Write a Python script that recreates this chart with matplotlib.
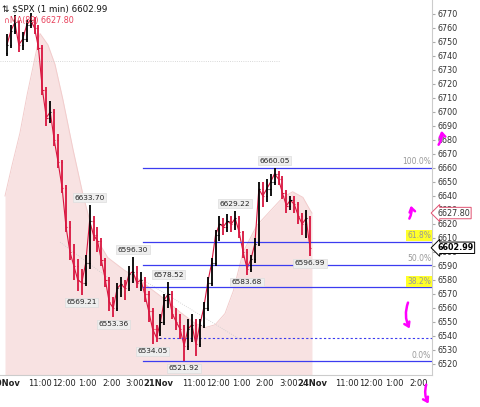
import numpy as np
import matplotlib.pyplot as plt

# 10-minute bars, Nov 20 and Nov 21
closes = [6748, 6758, 6764, 6748, 6752, 6762, 6766, 6760, 6746, 6716, 6696, 6700, 6680,
          6664, 6646, 6618, 6600, 6590, 6580, 6578, 6592, 6622, 6612, 6608, 6594, 6580,
          6564, 6560, 6574, 6577, 6574, 6584, 6586, 6578, 6580, 6570, 6558, 6545, 6538.76,
          6550, 6566, 6570, 6556, 6550, 6545, 6533, 6545, 6548, 6534, 6548, 6560, 6578,
          6592, 6612, 6620, 6618, 6622, 6620, 6624, 6614, 6600, 6588, 6595, 6606, 6645,
          6640, 6645, 6650, 6656, 6652, 6642, 6633, 6637, 6634, 6626, 6620, 6624, 6602.99]
highs = [6756, 6762, 6769, 6765, 6757, 6766, 6771, 6768, 6762, 6748, 6718, 6708, 6702,
         6684, 6666, 6648, 6622, 6606, 6595, 6588, 6598, 6633.70, 6626, 6618, 6610, 6596,
         6582, 6568, 6578, 6582, 6580, 6590, 6596.30, 6590, 6586, 6582, 6572, 6560, 6548,
         6556, 6570, 6578.52, 6572, 6560, 6556, 6548, 6552, 6556, 6552, 6552, 6564, 6582,
         6596, 6616, 6626, 6624, 6627, 6626, 6629.22, 6626, 6615, 6602, 6598, 6610, 6650,
         6650, 6652, 6656, 6660.05, 6658, 6654, 6644, 6640, 6640, 6636, 6628, 6630, 6626]
lows = [6740, 6746, 6756, 6743, 6744, 6750, 6760, 6756, 6744, 6712, 6690, 6692, 6676,
        6660, 6642, 6614, 6594, 6580, 6572, 6569.21, 6576, 6588, 6608, 6600, 6590, 6575,
        6558, 6553.36, 6558, 6568, 6566, 6572, 6578, 6574, 6572, 6564, 6550, 6534.05, 6536,
        6540, 6548, 6560, 6552, 6544, 6538, 6521.92, 6530, 6536, 6526, 6532, 6546, 6558,
        6576, 6590, 6608, 6612, 6614, 6614, 6616, 6610, 6596, 6583.68, 6586, 6592, 6604,
        6632, 6636, 6640, 6648, 6648, 6638, 6628, 6630, 6628, 6620, 6612, 6610, 6596.99]
first_open = 6742

# bars whose high / low got a price tag on the chart
high_tags = [21, 32, 41, 58, 68]
low_tags = [19, 27, 37, 45, 61, 77]

# MA(89) read at some minutes (minutes from Nov 20 9:30, sessions back to back)
ma_minutes = [0, 18, 38, 56, 71, 89, 109, 127, 147, 173, 198, 223, 261, 303, 343,
              369, 407, 445, 483, 509, 534, 559, 580, 605, 640, 673, 706, 731, 757, 775, 780]
ma_values = [6640, 6662, 6685, 6712, 6732, 6756, 6748, 6734, 6709, 6673, 6641, 6614, 6596,
             6587, 6580, 6574, 6566, 6557, 6549, 6546, 6548, 6556, 6572, 6600, 6619, 6629,
             6639, 6643, 6639, 6630, 6627.8]

y_ticks = list(range(6520, 6771, 10))
days = ["20Nov", "21Nov", "24Nov"]
hours = ["11:00", "12:00", "1:00", "2:00", "3:00"]
hour_offsets = [90, 150, 210, 270, 330]
day_len = 390

red = "#d8153f"
blue = "#3c3cf0"

closes = np.array(closes)
highs = np.array(highs)
lows = np.array(lows)
opens = np.concatenate([[first_open], closes[:-1]])
t = np.arange(len(closes)) * 10 + 5

fig = plt.figure(figsize=(4.8, 4.07), dpi=100)
ax = fig.add_axes([0, 32 / 407, 432 / 480, 375 / 407])
ax.set_xlim(-12.7, 1085)
ax.set_ylim(6512.1, 6780)

# MA(89) shaded area
ax.fill_between(ma_minutes, ma_values, 6500, color="#f8e2e2", lw=0, zorder=1)
ax.plot(ma_minutes, ma_values, color="#f2cccc", lw=0.7, zorder=1)

# price bars
cols = np.where(closes >= opens, "black", red)
ax.plot(t, closes, color=red, lw=0.8, zorder=2)
ax.vlines(t, lows, highs, colors=cols, lw=1.3, zorder=3)
ax.hlines(closes, t, t + 3, colors=cols, lw=0.8, zorder=3)
ax.hlines(opens, t - 3, t, colors=cols, lw=0.8, zorder=3)

# fib retracement on the Nov 21 swing
hi, lo = highs[39:].max(), lows[39:].min()
fib_start = 351
for lev in [1.0, 0.618, 0.5, 0.382, 0.0]:
    p = lo + (hi - lo) * lev
    ax.plot([fib_start, 1085], [p, p], color=blue, lw=0.9, zorder=2)
    hl = dict(boxstyle="square,pad=0.15", fc="#ffff2a", ec="none") if lev in (0.618, 0.382) else None
    ax.text(1083, p + 1.2, f"{lev * 100:.1f}%", fontsize=5.5, color="#999999",
            ha="right", va="bottom", bbox=hl, zorder=4)
# previous close, dashed
ax.plot([fib_start + 40, 1085], [closes[38], closes[38]], color=blue, lw=0.8,
        ls=(0, (2, 2)), zorder=2)

# faint helper lines
ax.plot([-12.7, 700], [6736.5, 6736.5], color="#cccccc", lw=0.6, ls=":", zorder=1)
ax.plot([345, 600], [6581, 6537], color="#cccccc", lw=0.6, ls=":", zorder=1)
ax.plot([140, 260], [6607, 6582], color="#cccccc", lw=0.6, ls=":", zorder=1)

# price tags on swing highs and lows
tag_box = dict(boxstyle="square,pad=0.2", fc="#eeeeee", ec="#dddddd", lw=0.5)
for i in high_tags:
    ax.text(t[i], highs[i] + 3, f"{highs[i]:.2f}", fontsize=5.3, ha="center", va="bottom",
            color="#222222", bbox=tag_box, zorder=5)
for i in low_tags:
    ax.text(t[i], lows[i] - 3, f"{lows[i]:.2f}", fontsize=5.3, ha="center", va="top",
            color="#222222", bbox=tag_box, zorder=5)

# axes
ax.yaxis.tick_right()
ax.set_yticks(y_ticks)
ax.set_yticklabels([str(v) for v in y_ticks], fontsize=5.8, color="#333333")
ax.tick_params(axis="y", length=2, pad=2, color="#aaaaaa")
xt, xl = [], []
for d, name in enumerate(days):
    xt.append(d * day_len)
    xl.append(name)
    for off, h in zip(hour_offsets, hours):
        if d * day_len + off < 1085:
            xt.append(d * day_len + off)
            xl.append(h)
ax.set_xticks(xt)
ax.set_xticklabels(xl, fontsize=6, color="#222222")
for lab in ax.get_xticklabels():
    if "Nov" in lab.get_text():
        lab.set_fontweight("bold")
ax.tick_params(axis="x", length=0, pad=3)
for s in ["top", "left"]:
    ax.spines[s].set_visible(False)
ax.spines["right"].set_color("#cccccc")
ax.spines["bottom"].set_color("#cccccc")

# last values on the right axis
ax.text(1.012, 6627.8, "6627.80", transform=ax.get_yaxis_transform(), fontsize=5.8,
        color="#333333", va="center", bbox=dict(boxstyle="larrow,pad=0.15", fc="white",
                                                ec="#e05070", lw=0.7))
ax.text(1.012, closes[-1], f"{closes[-1]:.2f}", transform=ax.get_yaxis_transform(),
        fontsize=5.8, fontweight="bold", color="black", va="center",
        bbox=dict(boxstyle="larrow,pad=0.15", fc="white", ec="black", lw=0.7))

# header
fig.text(2 / 480, 1 - 9 / 407, f"\u21c5 $SPX (1 min) {closes[-1]:.2f}", fontsize=6.3,
         color="#111111", va="center")
fig.text(4 / 480, 1 - 20 / 407, f"\u2229MA(89) {ma_values[-1]:.2f}", fontsize=5.8,
         color="#e8405a", va="center")

# hand-drawn arrows
mag = "#ff00ff"
arrows = [((437, 407 - 147), (441, 407 - 128)), ((408, 407 - 221), (410, 407 - 203)),
          ((409, 407 - 300), (411, 407 - 331)), ((427, 407 - 382), (430, 407 - 406))]
for start, end in arrows:
    fig.add_artist(plt.matplotlib.patches.FancyArrowPatch(
        start, end, transform=None, arrowstyle="->,head_width=2,head_length=3",
        color=mag, lw=1.8, connectionstyle="arc3,rad=0.25"))

fig.savefig("out.png", dpi=100)
